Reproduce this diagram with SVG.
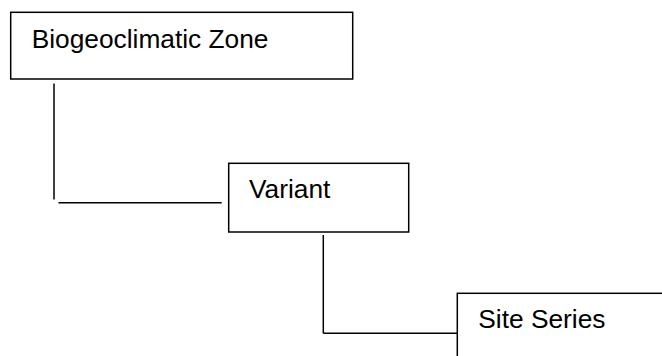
<svg xmlns="http://www.w3.org/2000/svg" width="662" height="356" viewBox="0 0 662 356">
<style>
.box{fill:#fff;stroke:#000;stroke-width:1.5}
.lbl{font-family:"Liberation Sans",Arial,sans-serif;font-size:26.3px;fill:#000}
.conn{fill:none;stroke:#000;stroke-width:1.5}
</style>
<rect width="662" height="356" fill="#fff"/>
<g id="connectors">
<line class="conn" x1="54" y1="83.5" x2="54" y2="199.5"/>
<line class="conn" x1="58.5" y1="202.7" x2="221.7" y2="202.7"/>
<line class="conn" x1="323.3" y1="235" x2="323.3" y2="333.3"/>
<line class="conn" x1="323.3" y1="333.3" x2="457.3" y2="333.3"/>
</g>
<g id="zone">
<rect class="box" x="10.7" y="12.3" width="342" height="66.7"/>
<text class="lbl" x="31.7" y="48.3">Biogeoclimatic Zone</text>
</g>
<g id="variant">
<rect class="box" x="228.7" y="163.3" width="180" height="68.7"/>
<text class="lbl" x="249" y="198.3">Variant</text>
</g>
<g id="siteseries">
<rect class="box" x="457.3" y="293.3" width="220" height="80"/>
<text class="lbl" x="478.3" y="328.3">Site Series</text>
</g>
</svg>
